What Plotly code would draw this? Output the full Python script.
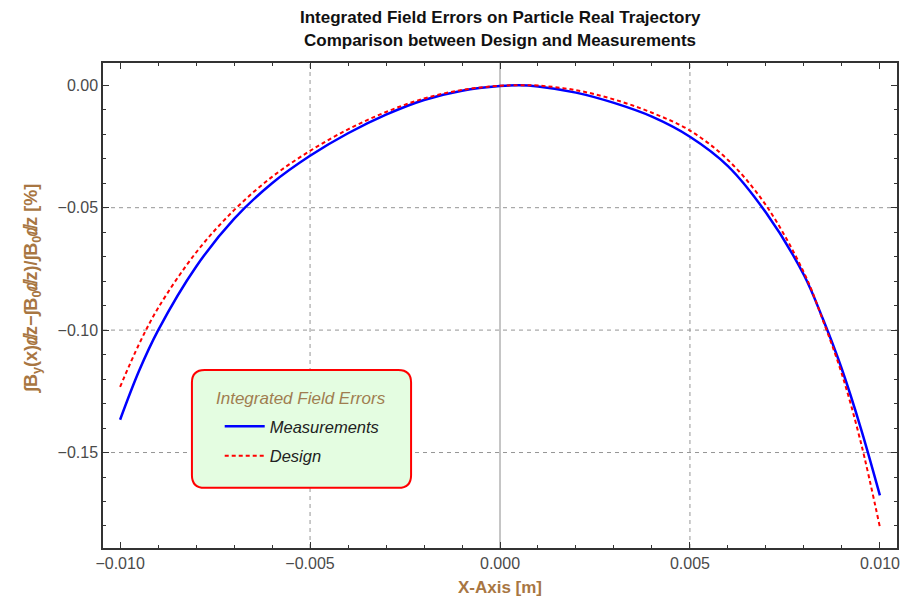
import plotly.graph_objects as go

# x positions (m)
x_meas = [-0.010, -0.0095, -0.009, -0.008, -0.007, -0.006, -0.005, -0.004, -0.003,
          -0.002, -0.001, 0.000, 0.0005, 0.001, 0.002, 0.003, 0.004, 0.005, 0.006,
          0.007, 0.008, 0.0085, 0.009, 0.0095, 0.010]
y_meas = [-0.1366, -0.1166, -0.1001, -0.0741, -0.0546, -0.0400, -0.0288, -0.0196, -0.0120,
          -0.0060, -0.0022, -0.0003, 0.0000, -0.0005, -0.0030, -0.0072, -0.0128, -0.0210, -0.0330,
          -0.0520, -0.0775, -0.0955, -0.1160, -0.1402, -0.1675]

x_design = [-0.010, -0.0095, -0.009, -0.008, -0.007, -0.006, -0.005, -0.004, -0.003,
            -0.002, -0.001, 0.000, 0.0005, 0.001, 0.002, 0.003, 0.004, 0.005, 0.006,
            0.007, 0.008, 0.0085, 0.009, 0.0095, 0.010]
y_design = [-0.1232, -0.1057, -0.0910, -0.0683, -0.0510, -0.0374, -0.0268, -0.0180, -0.0109,
            -0.0054, -0.0019, -0.0002, 0.0000, -0.0001, -0.0020, -0.0058, -0.0112, -0.0185, -0.0305,
            -0.0490, -0.0765, -0.0960, -0.1180, -0.1460, -0.1805]

x_ticks = [-0.010, -0.005, 0.000, 0.005, 0.010]
y_ticks = [0.00, -0.05, -0.10, -0.15]
x_grid = [-0.005, 0.005]
y_grid = [-0.05, -0.10, -0.15]

x_range = [-0.01045, 0.01045]
y_range = [-0.189, 0.0091]

title_lines = ["Integrated Field Errors on Particle Real Trajectory",
               "Comparison between Design and Measurements"]
x_title = "<b>X-Axis [m]</b>"
y_title = "<b>∫B<sub>y</sub>(x)ⅆz−∫B<sub>0</sub>ⅆz)/∫B<sub>0</sub>ⅆz [%]</b>"
legend_title = "Integrated Field Errors"
names = ["Measurements", "Design"]

brown = "rgb(168,118,66)"
frame = "#333333"
sans = "Liberation Sans, Arial, sans-serif"
tickfont = dict(family=sans, size=16, color="#4a4a4a")

fig = go.Figure()
fig.add_trace(go.Scatter(x=x_meas, y=y_meas, mode="lines", name=names[0],
                         line=dict(color="rgb(0,0,255)", width=2.5, shape="spline", smoothing=1.0),
                         legendgroup="a"))
fig.add_trace(go.Scatter(x=x_design, y=y_design, mode="lines", name=names[1],
                         line=dict(color="rgb(255,0,0)", width=2, dash="4px,3px", shape="spline", smoothing=1.0),
                         legendgroup="b"))

shapes = []
for gx in x_grid:
    shapes.append(dict(type="line", xref="x", yref="paper", x0=gx, x1=gx, y0=0, y1=1,
                       line=dict(color="rgb(150,150,150)", width=1, dash="4px,4px"), layer="below"))
for gy in y_grid:
    shapes.append(dict(type="line", xref="paper", yref="y", x0=0, x1=1, y0=gy, y1=gy,
                       line=dict(color="rgb(150,150,150)", width=1, dash="4px,4px"), layer="below"))
shapes.append(dict(type="line", xref="x", yref="paper", x0=0, x1=0, y0=0, y1=1,
                   line=dict(color="rgb(140,140,140)", width=1), layer="below"))

# rounded legend box (paper coords)
bx0, bx1, by0, by1 = 0.112, 0.388, 0.124, 0.367
rx, ry = 0.016, 0.026
path = (f"M{bx0+rx},{by0} L{bx1-rx},{by0} Q{bx1},{by0} {bx1},{by0+ry} "
        f"L{bx1},{by1-ry} Q{bx1},{by1} {bx1-rx},{by1} L{bx0+rx},{by1} "
        f"Q{bx0},{by1} {bx0},{by1-ry} L{bx0},{by0+ry} Q{bx0},{by0} {bx0+rx},{by0} Z")
shapes.append(dict(type="path", xref="paper", yref="paper", path=path,
                   fillcolor="rgb(228,253,225)", line=dict(color="rgb(255,0,0)", width=2), layer="above"))

annotations = [
    dict(text="<b>" + title_lines[0] + "</b>", xref="paper", yref="paper", x=0.5, y=1.0948,
         xanchor="center", yanchor="middle", showarrow=False,
         font=dict(family=sans, size=17, color="#111111")),
    dict(text="<b>" + title_lines[1] + "</b>", xref="paper", yref="paper", x=0.5, y=1.0474,
         xanchor="center", yanchor="middle", showarrow=False,
         font=dict(family=sans, size=17, color="#111111")),
    dict(text=y_title, xref="paper", yref="paper", x=-0.0894, y=0.534, textangle=-90,
         xanchor="center", yanchor="middle", showarrow=False,
         font=dict(family=sans, size=18, color=brown)),
    dict(text="<i>" + legend_title + "</i>", xref="paper", yref="paper", x=0.2494, y=0.309,
         xanchor="center", yanchor="middle", showarrow=False,
         font=dict(family=sans, size=17, color="rgb(160,125,80)")),
]

fig.update_layout(
    width=923, height=602,
    margin=dict(l=103, r=26, t=63, b=54),
    paper_bgcolor="white", plot_bgcolor="white",
    shapes=shapes,
    annotations=annotations,
    showlegend=True,
    legend=dict(x=0.147, y=0.2866, xanchor="left", yanchor="top", bgcolor="rgba(0,0,0,0)",
                traceorder="grouped", tracegroupgap=5, itemwidth=40,
                font=dict(family=sans, size=16.5, color="#222222", style="italic")),
    xaxis=dict(range=x_range, tickvals=x_ticks, tickformat=".3f", showgrid=False, zeroline=False,
               showline=True, linecolor=frame, linewidth=1.5, mirror="allticks",
               ticks="inside", ticklen=6, tickcolor=frame, tickwidth=1, automargin=False,
               minor=dict(dtick=0.001, ticks="inside", ticklen=3, tickcolor=frame, showgrid=False),
               tickfont=tickfont,
               title=dict(text=x_title, font=dict(family=sans, size=17, color=brown), standoff=10)),
    yaxis=dict(range=y_range, tickvals=y_ticks, tickformat=".2f", showgrid=False, zeroline=False,
               showline=True, linecolor=frame, linewidth=1.5, mirror="allticks",
               ticks="inside", ticklen=6, tickcolor=frame, tickwidth=1, automargin=False,
               minor=dict(dtick=0.01, ticks="inside", ticklen=3, tickcolor=frame, showgrid=False),
               tickfont=tickfont),
)

fig.write_html("out.html")
